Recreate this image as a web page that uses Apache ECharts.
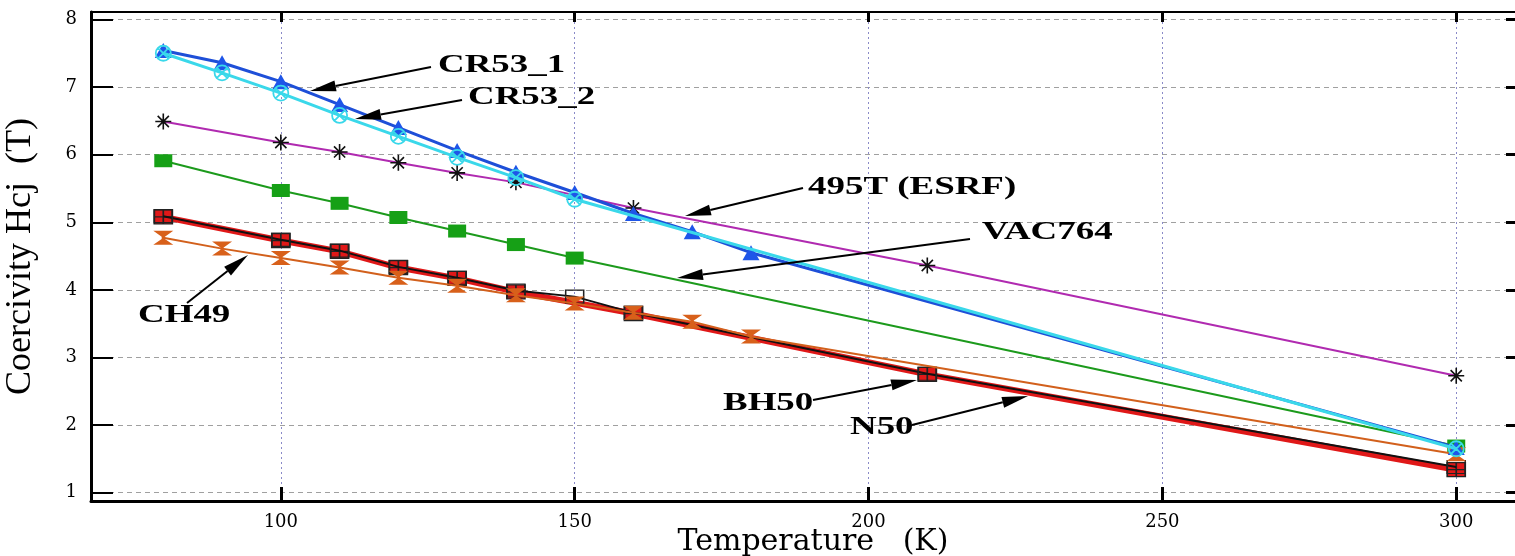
<!DOCTYPE html>
<html>
<head>
<meta charset="utf-8">
<script src="https://cdn.jsdelivr.net/npm/echarts@6/dist/echarts.min.js"></script>
<style>html,body{margin:0;padding:0;background:#fff}#c{width:1515px;height:556px}</style>
</head>
<body>
<div id="c"></div>
<script>
// ---- data (Temperature in K, coercivity in T) ----
const xTicks = [100, 150, 200, 250, 300];
const yTicks = [1, 2, 3, 4, 5, 6, 7, 8];

const T_CR53_1 = [80, 90, 100, 110, 120, 130, 140, 150, 160, 170, 180, 300];
const CR53_1   = [7.54, 7.36, 7.08, 6.74, 6.40, 6.06, 5.74, 5.44, 5.13, 4.86, 4.55, 1.67];

const T_CR53_2 = [80, 90, 100, 110, 120, 130, 140, 150, 300];
const CR53_2   = [7.50, 7.21, 6.91, 6.58, 6.27, 5.96, 5.66, 5.34, 1.65];

const T_495T = [80, 100, 110, 120, 130, 140, 160, 210, 300];
const ESRF495T = [6.49, 6.18, 6.04, 5.88, 5.73, 5.59, 5.21, 4.36, 2.73];

const T_VAC764 = [80, 100, 110, 120, 130, 140, 150, 300];
const VAC764   = [5.91, 5.47, 5.28, 5.07, 4.87, 4.67, 4.47, 1.69];

const T_BH50 = [80, 100, 110, 120, 130, 140, 160, 210, 300];
const BH50   = [5.08, 4.73, 4.57, 4.33, 4.17, 3.97, 3.65, 2.75, 1.34];

const T_N50 = [80, 100, 110, 120, 130, 140, 150, 160, 210, 300];
const N50   = [5.09, 4.74, 4.58, 4.34, 4.18, 3.99, 3.90, 3.66, 2.76, 1.38];

const T_CH49 = [80, 90, 100, 110, 120, 130, 140, 150, 160, 170, 180, 300];
const CH49   = [4.77, 4.61, 4.47, 4.33, 4.18, 4.06, 3.92, 3.80, 3.66, 3.53, 3.31, 1.57];

// ---- annotation layout (pixels) ----
const notes = [
  {text: 'CR53_1',      tx: 438, ty: 65,  sx: 431, sy: 67,  ex: 310, ey: 91},
  {text: 'CR53_2',      tx: 468, ty: 97,  sx: 462, sy: 100, ex: 355, ey: 119},
  {text: '495T (ESRF)', tx: 808, ty: 187, sx: 803, sy: 188, ex: 685, ey: 216},
  {text: 'VAC764',      tx: 982, ty: 232, sx: 970, sy: 239, ex: 677, ey: 278},
  {text: 'CH49',        tx: 138, ty: 315, sx: 187, sy: 303, ex: 248, ey: 255},
  {text: 'BH50',        tx: 723, ty: 403, sx: 813, sy: 400, ex: 917, ey: 380},
  {text: 'N50',         tx: 850, ty: 427, sx: 912, sy: 425, ex: 1028, ey: 396}
];

function zip(xs, ys) { return xs.map((x, i) => [x, ys[i]]); }

const SYM_SQ_PLUS = 'path://M0,0H10V10H0Z M5,0V10 M0,5H10';
const SYM_CIRC_X = 'path://M10,5A5,5 0 1,1 0,5A5,5 0 1,1 10,5Z M1.6,1.6L8.4,8.4 M8.4,1.6L1.6,8.4';
const SYM_STAR = 'path://M0,5H10 M5,0V10 M1.5,1.5L8.5,8.5 M8.5,1.5L1.5,8.5';
const SYM_HOURGLASS = 'path://M0,0H10L5.8,4.2V5.8L10,10H0L4.2,5.8V4.2Z';

const graphics = [];
notes.forEach(n => {
  const dx = n.ex - n.sx, dy = n.ey - n.sy;
  const len = Math.sqrt(dx * dx + dy * dy);
  const ux = dx / len, uy = dy / len;
  const L = 26, W = 5.5;
  const bx = n.ex - ux * L, by = n.ey - uy * L;
  graphics.push({
    type: 'line', z: 100,
    shape: {x1: n.sx, y1: n.sy, x2: bx, y2: by},
    style: {stroke: '#000', lineWidth: 2}
  });
  graphics.push({
    type: 'polygon', z: 100,
    shape: {points: [[n.ex, n.ey], [bx - uy * W, by + ux * W], [bx + uy * W, by - ux * W]]},
    style: {fill: '#000'}
  });
  graphics.push({
    type: 'text', z: 100, x: n.tx, y: n.ty, scaleX: 1.42, scaleY: 1,
    style: {text: n.text, fill: '#000', font: 'bold 26px "Liberation Serif"', textAlign: 'left', textVerticalAlign: 'middle'}
  });
});

const chart = echarts.init(document.getElementById('c'), null, {renderer: 'canvas'});

const X_MIN = 67.7, X_MAX = 310, Y_MIN = 0.877, Y_MAX = 8.11;

chart.setOption({
  backgroundColor: '#fff',
  animation: false,
  grid: {left: 91, right: 0, top: 12, bottom: 55, containLabel: false, outerBoundsMode: 'none'},
  xAxis: [{
    type: 'value', position: 'bottom', min: X_MIN, max: X_MAX,
    name: 'Temperature   (K)', nameLocation: 'middle', nameGap: 26, nameMoveOverlap: false,
    nameTextStyle: {fontFamily: 'DejaVu Serif', fontSize: 30, color: '#000', padding: [0, 0, 0, 20]},
    axisLine: {show: true, lineStyle: {color: '#000', width: 3}},
    axisTick: {show: true, inside: true, length: 14, customValues: xTicks, lineStyle: {color: '#000', width: 3}},
    axisLabel: {customValues: xTicks, margin: 12, fontFamily: 'DejaVu Serif', fontSize: 18, color: '#000'},
    splitLine: {show: true, lineStyle: {color: '#8a8ac8', type: [2, 3], width: 1}}
  }, {
    type: 'value', position: 'top', min: X_MIN, max: X_MAX,
    axisLine: {show: true, onZero: false, lineStyle: {color: '#000', width: 2}},
    axisTick: {show: true, inside: true, length: 10, customValues: xTicks, lineStyle: {color: '#000', width: 3}},
    axisLabel: {show: false},
    splitLine: {show: false}
  }],
  yAxis: [{
    type: 'value', position: 'left', min: Y_MIN, max: Y_MAX,
    name: 'Coercivity Hcj  (T)', nameLocation: 'middle', nameGap: 52, nameMoveOverlap: false,
    nameTextStyle: {fontFamily: 'Liberation Serif', fontSize: 36, color: '#000'},
    axisLine: {show: true, onZero: false, lineStyle: {color: '#000', width: 3}},
    axisTick: {show: true, inside: true, length: 22, customValues: yTicks, lineStyle: {color: '#000', width: 2}},
    axisLabel: {customValues: yTicks, margin: 14, fontFamily: 'DejaVu Serif', fontSize: 18, color: '#000'},
    splitLine: {show: true, lineStyle: {color: '#a0a0a0', type: [5, 4], width: 1}}
  }, {
    type: 'value', position: 'right', min: Y_MIN, max: Y_MAX,
    axisLine: {show: false},
    axisTick: {show: true, inside: true, length: 9, customValues: yTicks, lineStyle: {color: '#000', width: 3}},
    axisLabel: {show: false},
    splitLine: {show: false}
  }],
  series: [
    {name: 'VAC764', type: 'line', data: zip(T_VAC764, VAC764), z: 3,
     lineStyle: {color: '#1c9a1c', width: 2}, symbol: 'rect', symbolSize: [18, 13],
     itemStyle: {color: '#16a016'}},
    {name: '495T (ESRF)', type: 'line', data: zip(T_495T, ESRF495T), z: 3,
     lineStyle: {color: '#b02ab0', width: 2}, symbol: SYM_STAR, symbolSize: 16,
     itemStyle: {color: 'none', borderColor: '#111', borderWidth: 1.6}},
    {name: 'BH50', type: 'line', data: zip(T_BH50, BH50), z: 4,
     lineStyle: {color: '#e01818', width: 6}, symbol: SYM_SQ_PLUS, symbolSize: [18, 14],
     itemStyle: {color: '#e01818', borderColor: '#222', borderWidth: 1.5}},
    {name: 'N50', type: 'line', data: zip(T_N50, N50), z: 5,
     lineStyle: {color: '#111', width: 2}, symbol: 'rect', symbolSize: [18, 13],
     itemStyle: {color: 'none', borderColor: '#222', borderWidth: 1.3}},
    {name: 'CH49', type: 'line', data: zip(T_CH49, CH49), z: 6,
     lineStyle: {color: '#d2601c', width: 2}, symbol: SYM_HOURGLASS, symbolSize: [20, 14],
     itemStyle: {color: '#d8601a'}},
    {name: 'CR53_1', type: 'line', data: zip(T_CR53_1, CR53_1), z: 7,
     lineStyle: {color: '#1e4fd8', width: 3}, symbol: 'triangle', symbolSize: [17, 15],
     itemStyle: {color: '#1e55e8'}},
    {name: 'CR53_2', type: 'line', data: zip(T_CR53_2, CR53_2), z: 8,
     lineStyle: {color: '#3ad8ea', width: 3}, symbol: SYM_CIRC_X, symbolSize: 15,
     itemStyle: {color: 'none', borderColor: '#3ad8ea', borderWidth: 1.8}}
  ],
  graphic: graphics
});
</script>
</body>
</html>
